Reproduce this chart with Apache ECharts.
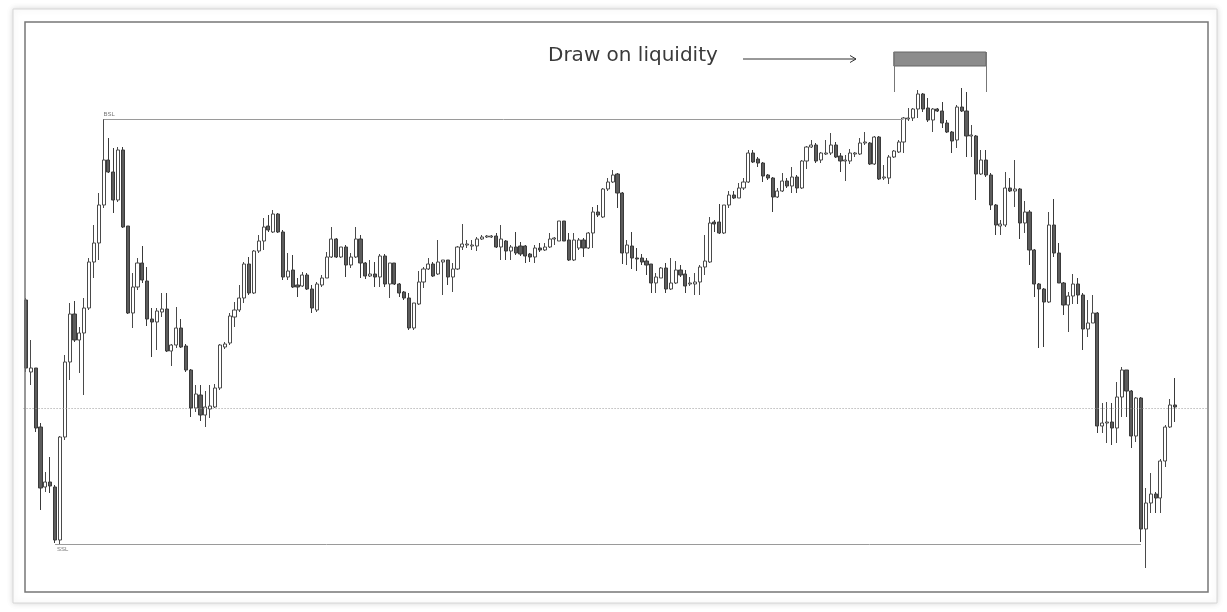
<!DOCTYPE html>
<html>
<head>
<meta charset="utf-8">
<script src="https://cdn.jsdelivr.net/npm/echarts@6/dist/echarts.min.js"></script>
<style>
html,body{margin:0;padding:0;background:#ffffff;}
#chart{width:1227px;height:612px;}
</style>
</head>
<body>
<div id="chart"></div>
<script>
// Candles: [open, close, low, high]
var candles = [
[300,232,228,302],[228,232,215,260],[232,172,168,232],[173,112,90,177],[113,118,108,128],
[118,114,107,143],[113,60,57,115],[60,163,56,164],[163,238,160,245],[238,286,220,297],
[286,260,258,299],[260,267,227,273],[267,292,205,302],[292,338,290,342],[338,357,322,375],
[357,395,340,407],[395,440,392,481],[440,428,427,462],[428,400,387,452],[400,450,398,453],
[450,373,372,453],[374,287,286,374],[287,313,272,327],[313,337,310,342],[337,320,317,354],
[319,281,274,333],[281,278,243,292],[278,289,250,292],[288,291,283,307],[291,249,248,307],
[249,255,234,256],[255,272,252,293],[272,253,252,281],[254,230,228,256],[230,192,183,231],
[192,206,188,215],[205,185,179,215],[185,193,173,209],[191,194,182,215],[193,212,192,216],
[212,255,210,256],[253,256,251,258],[257,284,255,287],[283,290,273,298],[290,302,288,315],
[302,336,297,338],[336,307,305,343],[307,349,306,350],[349,359,347,365],[359,373,350,382],
[374,370,368,385],[368,386,367,390],[386,368,367,387],[368,323,320,370],[323,329,320,347],
[330,313,312,345],[315,313,303,322],[314,325,313,328],[325,311,310,327],[311,292,287,315],
[290,316,288,318],[315,322,313,325],[322,343,322,348],[343,361,342,373],[361,343,342,362],
[343,353,342,353],[353,335,323,355],[335,343,332,347],[343,361,342,373],[361,337,322,365],
[337,324,321,338],[324,326,323,340],[326,323,313,338],[323,344,313,346],[344,316,313,346],
[316,337,302,337],[337,316,315,337],[316,307,303,317],[308,302,300,309],[302,272,270,307],
[272,297,270,297],[296,318,295,329],[318,331,312,333],[331,336,330,342],[336,324,323,338],
[326,338,325,360],[338,340,305,340],[340,323,315,340],[323,331,308,337],[331,353,330,354],
[353,356,350,376],[355,356,352,360],[354,355,350,360],[354,361,349,363],[361,363,360,365],
[363,364,362,365],[363,364,362,365],[364,353,352,367],[353,361,340,375],[359,349,340,360],
[349,353,340,355],[353,347,345,368],[354,346,344,358],[354,344,337,355],[346,343,338,347],
[343,352,337,355],[352,350,348,357],[350,353,349,357],[353,361,352,367],[361,362,355,363],
[359,379,359,379],[379,359,359,379],[360,340,339,367],[340,360,339,367],[352,360,350,362],
[360,352,343,362],[352,367,351,368],[367,388,352,393],[388,385,383,395],[383,411,382,412],
[411,418,409,422],[418,425,417,430],[426,407,392,427],[407,347,336,408],[347,355,335,360],
[354,342,331,368],[342,341,329,352],[342,338,335,346],[339,335,325,342],[336,317,307,336],
[317,323,307,327],[322,332,322,333],[332,311,307,337],[311,317,310,342],[317,330,316,339],
[330,325,323,335],[326,314,307,330],[316,317,314,323],[316,318,305,327],[318,333,305,335],
[333,339,325,365],[338,377,337,383],[378,376,368,380],[378,367,366,396],[367,395,366,395],
[395,405,392,409],[405,402,401,409],[402,412,402,417],[412,418,410,422],[418,447,417,450],
[447,438,437,450],[441,437,433,443],[437,424,418,438],[425,422,420,426],[422,403,388,423],
[403,409,402,412],[409,419,408,427],[419,414,412,422],[414,423,407,433],[423,412,407,425],
[412,439,411,440],[439,453,431,454],[453,455,452,460],[455,439,437,457],[440,447,437,448],
[446,447,445,460],[447,455,445,467],[455,443,442,458],[444,439,428,447],[439,440,419,445],
[439,447,436,451],[446,447,443,448],[446,457,445,462],[457,458,455,468],[457,436,435,458],
[436,463,435,464],[463,421,420,464],[422,423,420,435],[422,443,416,445],[443,449,442,450],
[448,458,447,460],[458,482,447,483],[481,482,479,492],[482,491,479,492],[491,506,482,510],
[506,491,488,507],[492,480,478,502],[480,491,468,492],[491,489,488,492],[489,477,472,498],
[477,468,467,480],[468,459,447,469],[460,493,452,495],[493,489,488,512],[489,464,443,508],
[464,465,443,475],[464,426,400,465],[426,440,425,450],[440,425,423,450],[425,395,390,427],
[395,375,365,396],[374,376,365,380],[375,412,373,428],[412,409,408,422],[409,411,393,440],
[411,377,361,412],[377,388,367,399],[388,350,335,390],[350,316,303,351],[316,311,252,317],
[311,298,253,312],[298,375,297,388],[375,347,343,401],[347,317,317,357],[317,295,285,318],
[295,304,268,308],[304,316,296,326],[316,305,296,322],[305,271,250,307],[271,277,263,300],
[277,287,277,305],[287,174,167,288],[174,177,167,197],[177,178,157,198],[178,172,155,197],
[172,203,157,218],[203,230,183,233],[230,209,183,230],[209,164,152,210],[164,202,158,203],
[202,71,58,203],[71,97,32,112],[97,106,87,127],[106,102,87,108],[102,139,87,141],
[139,173,133,175],[173,195,172,201],[195,193,178,222]
];
// empty slots after the last candle (right margin of the chart)
var emptySlots = 6;

// Annotation levels
var bslLevel = 481, bslFrom = 16, bslTo = 181;
var sslLevel = 56, sslFrom = 6, sslTo = 230;
var lastPrice = 192;
var targetFrom = 179, targetTo = 198;
var targetBoxLow = 534, targetBoxHigh = 548, targetLegLow = 508;
var titleText = 'Draw on liquidity';

var categories = [];
for (var i = 0; i < candles.length + emptySlots; i++) categories.push(String(i));
var seriesData = candles.slice();
for (var j = 0; j < emptySlots; j++) seriesData.push('-');

var chart = echarts.init(document.getElementById('chart'), null, {renderer: 'canvas'});
var step = 4.848;
var gridLeft = 26 - step / 2;
var option = {
  animation: false,
  backgroundColor: '#ffffff',
  grid: {left: gridLeft, top: 22, width: step * categories.length, height: 570},
  xAxis: {
    type: 'category', data: categories, boundaryGap: true,
    axisLine: {show: false}, axisTick: {show: false}, axisLabel: {show: false}, splitLine: {show: false}
  },
  yAxis: {
    type: 'value', min: 8, max: 578, scale: true,
    axisLine: {show: false}, axisTick: {show: false}, axisLabel: {show: false}, splitLine: {show: false}
  },
  series: [{
    type: 'candlestick',
    data: seriesData,
    barWidth: 3.6,
    itemStyle: {
      color: '#ffffff', color0: '#5c5c5c',
      borderColor: '#4a4a4a', borderColor0: '#3a3a3a', borderWidth: 1
    },
    markLine: {
      silent: true, symbol: ['none', 'none'], animation: false,
      data: [
        [{coord: [bslFrom, bslLevel], lineStyle: {color: '#9a9a9a', width: 1, type: 'solid'},
          label: {show: true, formatter: 'BSL', position: 'insideStartTop', fontSize: 6, color: '#777', distance: [0, 2]}},
         {coord: [bslTo, bslLevel]}],
        [{coord: [sslFrom, sslLevel], lineStyle: {color: '#9a9a9a', width: 1, type: 'solid'},
          label: {show: true, formatter: 'SSL', position: 'insideStartBottom', fontSize: 6, color: '#777', distance: [2, 2]}},
         {coord: [sslTo, sslLevel]}],
        [{coord: [targetFrom, targetBoxHigh], lineStyle: {color: '#777', width: 1, type: 'solid'}, label: {show: false}},
         {coord: [targetFrom, targetLegLow]}],
        [{coord: [targetTo, targetBoxHigh], lineStyle: {color: '#777', width: 1, type: 'solid'}, label: {show: false}},
         {coord: [targetTo, targetLegLow]}],
        {yAxis: lastPrice, lineStyle: {color: '#9a9a9a', width: 1, type: [1, 2]}, label: {show: false}}
      ]
    },
    markArea: {
      silent: true,
      itemStyle: {color: '#8c8c8c', borderColor: '#666', borderWidth: 1},
      data: [[{coord: [targetFrom, targetBoxLow]}, {coord: [targetTo, targetBoxHigh]}]]
    }
  }],
  graphic: [
    {type: 'rect', z: -10, silent: true, shape: {x: 13, y: 9, width: 1204, height: 594},
     style: {fill: '#ffffff', stroke: '#d6d6d6', lineWidth: 1, shadowBlur: 6, shadowColor: 'rgba(0,0,0,0.15)'}},
    {type: 'rect', z: 100, silent: true, shape: {x: 25, y: 22, width: 1183, height: 570},
     style: {fill: 'none', stroke: '#777', lineWidth: 1.5}},
    {type: 'text', z: 100, left: 548, top: 46,
     style: {text: titleText, fontSize: 20, fontFamily: 'DejaVu Sans', fill: '#3a3a3a'}},
    {type: 'polyline', z: 100, shape: {points: [[743, 59], [856, 59]]}, style: {stroke: '#333', lineWidth: 1}},
    {type: 'polyline', z: 100, shape: {points: [[850, 55.5], [856, 59], [850, 62.5]]}, style: {stroke: '#333', lineWidth: 1, fill: 'none'}}
  ]
};
chart.setOption(option);
</script>
</body>
</html>
